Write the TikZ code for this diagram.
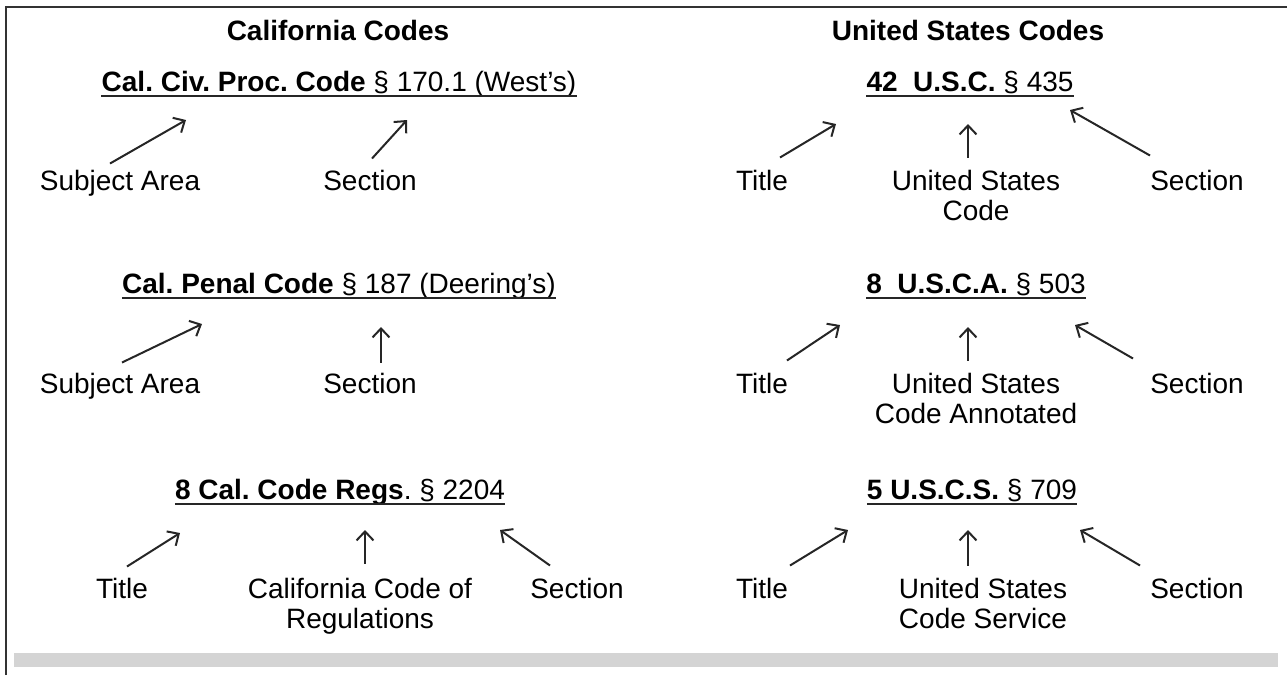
\documentclass[tikz,border=0pt]{standalone}
\usepackage{fontspec}
\setmainfont{Liberation Sans}
\usetikzlibrary{arrows.meta}
\frenchspacing

\begin{document}
\begin{tikzpicture}[x=1pt,y=-1pt,>={Straight Barb[length=9pt,width=17pt]},
  every node/.style={inner sep=0pt,anchor=base,font=\fontsize{28}{30}\selectfont},
  head/.style={font=\fontsize{28}{30}\selectfont\bfseries},
  lbl/.style={align=center},
  arr/.style={->,line width=2pt,black!85},
  uline/.style={line width=2pt,black!85}]
  \useasboundingbox (0,0) rectangle (1287,675);
  % frame and grey bar
  \draw[line width=2pt,black!80] (6,675)--(6,7)--(1287,7);
  \fill[black!17] (14,653) rectangle (1278,667);

  % headings
  \node[head] (hca) at (338,40) {California Codes};
  \node[head] (hus) at (968,40) {United States Codes};

  % citations
  \node (c1) at (339,91) {\textbf{Cal. Civ. Proc. Code} \S\ 170.1 (West's)};
  \node (c2) at (339,293) {\textbf{Cal. Penal Code} \S\ 187 (Deering's)};
  \node (c3) at (340,499) {\textbf{8 Cal. Code Regs}. \S\ 2204};
  \node (u1) at (970,91) {\textbf{42\ \ U.S.C.} \S\ 435};
  \node (u2) at (976,293) {\textbf{8\ \ U.S.C.A.} \S\ 503};
  \node (u3) at (972,499) {\textbf{5 U.S.C.S.} \S\ 709};
  \foreach \c in {c1,c2,c3,u1,u2,u3}
    \draw[uline] ([yshift=-5pt]\c.base west)--([yshift=-5pt]\c.base east);

  % row 1
  \node (sa1) at (120,190) {Subject Area};
  \node (se1) at (370,190) {Section};
  \node (ti1) at (762,190) {Title};
  \node[lbl] (co1) at (976,220) {United States\\Code};
  \node (sr1) at (1197,190) {Section};
  \coordinate (sa1t) at (186,120);
  \coordinate (se1t) at (407,120);
  \coordinate (ti1t) at (836,124);
  \coordinate (co1t) at (968,124);
  \coordinate (sr1t) at (1070,110);
  \draw[arr] ([shift={(-10,-6)}]sa1.north)--(sa1t);
  \draw[arr] ([shift={(2,-11)}]se1.north)--(se1t);
  \draw[arr] ([shift={(18,-12)}]ti1.north)--(ti1t);
  \draw[arr] ([shift={(-8,-12)}]co1.north)--(co1t);
  \draw[arr] ([shift={(-47,-14)}]sr1.north)--(sr1t);

  % row 2
  \node (sa2) at (120,393) {Subject Area};
  \node (se2) at (370,393) {Section};
  \node (ti2) at (762,393) {Title};
  \node[lbl] (co2) at (976,423) {United States\\Code Annotated};
  \node (sr2) at (1197,393) {Section};
  \coordinate (sa2t) at (202,324);
  \coordinate (se2t) at (381,327);
  \coordinate (ti2t) at (840,325);
  \coordinate (co2t) at (968,327);
  \coordinate (sr2t) at (1075,325);
  \draw[arr] ([shift={(2,-10)}]sa2.north)--(sa2t);
  \draw[arr] ([shift={(11,-10)}]se2.north)--(se2t);
  \draw[arr] ([shift={(25,-12)}]ti2.north)--(ti2t);
  \draw[arr] ([shift={(-8,-12)}]co2.north)--(co2t);
  \draw[arr] ([shift={(-64,-14)}]sr2.north)--(sr2t);

  % row 3
  \node (ti3) at (122,598) {Title};
  \node[lbl] (cr3) at (360,628) {California Code of\\Regulations};
  \node (se3) at (577,598) {Section};
  \node (ti4) at (762,598) {Title};
  \node[lbl] (co3) at (983,628) {United States\\Code Service};
  \node (sr3) at (1197,598) {Section};
  \coordinate (ti3t) at (180,533);
  \coordinate (cr3t) at (365,530);
  \coordinate (se3t) at (500,530);
  \coordinate (ti4t) at (848,530);
  \coordinate (co3t) at (968,530);
  \coordinate (sr3t) at (1080,530);
  \draw[arr] ([shift={(5,-11)}]ti3.north)--(ti3t);
  \draw[arr] ([shift={(5,-14)}]cr3.north)--(cr3t);
  \draw[arr] ([shift={(-27,-12)}]se3.north)--(se3t);
  \draw[arr] ([shift={(28,-12)}]ti4.north)--(ti4t);
  \draw[arr] ([shift={(-15,-12)}]co3.north)--(co3t);
  \draw[arr] ([shift={(-57,-12)}]sr3.north)--(sr3t);
\end{tikzpicture}
\end{document}
